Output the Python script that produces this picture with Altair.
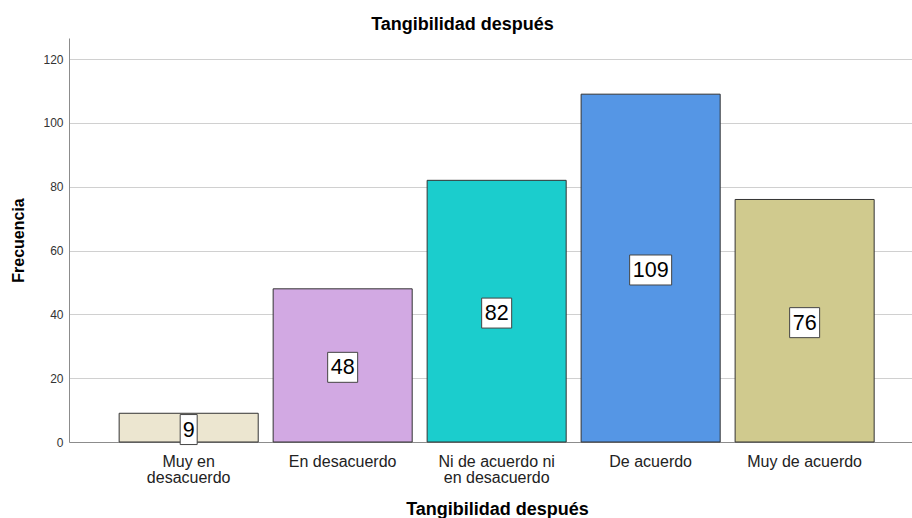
import altair as alt
import pandas as pd

# Response categories and their frequencies
categories = [
    "Muy en\ndesacuerdo",
    "En desacuerdo",
    "Ni de acuerdo ni\nen desacuerdo",
    "De acuerdo",
    "Muy de acuerdo",
]
counts = [9, 48, 82, 109, 76]
bar_colors = ["#ECE6D0", "#D2A9E3", "#1BCDCD", "#5596E5", "#D0CA8E"]

df = pd.DataFrame({"cat": categories, "n": counts, "color": bar_colors})

FONT = "Liberation Sans"
Y_MAX = 126.6
HALF_BOX = 4.7   # half height of the value label box, in frequency units
BOX_SHIFT = 0.6  # label boxes sit slightly below the bar midpoint

x_enc = alt.X(
    "cat:N",
    sort=categories,
    scale=alt.Scale(paddingInner=0.097, paddingOuter=0.2857, align=0.57),
    axis=alt.Axis(
        title="Tangibilidad después",
        labelAngle=0,
        ticks=False,
        labelFontSize=16,
        labelColor="#222222",
        labelPadding=11,
        labelLineHeight=16,
        labelExpr="split(datum.value, '\\n')",
        domainColor="#8c8c8c",
        titleFontSize=18,
        titleFontWeight="bold",
        titleColor="#000000",
        titleX=428,
        titleY=72,
        titleAlign="center",
        titleBaseline="alphabetic",
        grid=False,
    ),
)

y_scale = alt.Scale(domain=[0, Y_MAX], nice=False)

bars = alt.Chart(df).mark_bar(stroke="#333333", strokeWidth=1).encode(
    x=x_enc,
    y=alt.Y(
        "n:Q",
        scale=y_scale,
        axis=alt.Axis(
            title="Frecuencia",
            values=[0, 20, 40, 60, 80, 100, 120],
            ticks=False,
            labelFontSize=12,
            labelColor="#333333",
            labelPadding=6,
            domainColor="#8c8c8c",
            gridColor="#d0d0d0",
            titleFontSize=16,
            titleFontWeight="bold",
            titleColor="#000000",
            titleAngle=-90,
            titleX=-46,
            titleY=202,
            titleAlign="center",
            titleBaseline="alphabetic",
        ),
    ),
    color=alt.Color("color:N", scale=None),
)

base = alt.Chart(df).transform_calculate(
    mid=f"datum.n / 2 - {BOX_SHIFT}",
    lo=f"datum.n / 2 - {BOX_SHIFT} - {HALF_BOX}",
    hi=f"datum.n / 2 - {BOX_SHIFT} + {HALF_BOX}",
)


def label_box(test, width):
    return base.transform_filter(test).mark_bar(
        fill="white", stroke="#444444", strokeWidth=1, width=width
    ).encode(
        x=alt.X("cat:N", sort=categories),
        y=alt.Y("lo:Q", scale=y_scale),
        y2="hi:Q",
    )


boxes = [
    label_box("datum.n < 10", 17),
    label_box("datum.n >= 10 && datum.n < 100", 30),
    label_box("datum.n >= 100", 42),
]

texts = base.mark_text(
    font=FONT, fontSize=21.5, color="#000000", baseline="middle", dy=1
).encode(
    x=alt.X("cat:N", sort=categories),
    y=alt.Y("mid:Q", scale=y_scale),
    text="n:Q",
)

chart = alt.layer(bars, *boxes, texts).properties(
    width=843,
    height=404,
    autosize=alt.AutoSizeParams(type="none"),
    padding={"left": 69, "top": 38, "right": 0, "bottom": 76},
    title=alt.TitleParams(
        "Tangibilidad después",
        fontSize=18,
        fontWeight="bold",
        font=FONT,
        color="#000000",
        anchor="middle",
        dx=-28,
        offset=4,
    ),
).configure(font=FONT).configure_view(stroke=None)

chart.save("out.html", embed_options={"renderer": "svg", "actions": False})
